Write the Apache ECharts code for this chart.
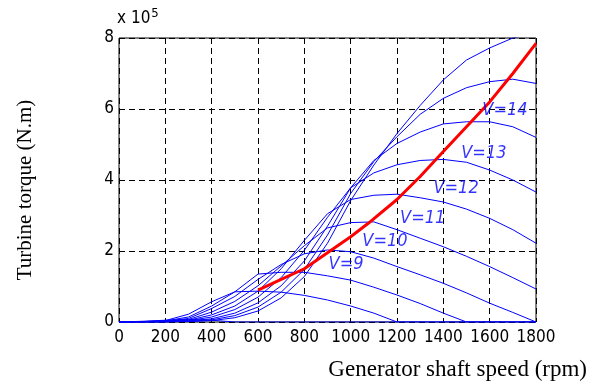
<!DOCTYPE html>
<html><head><meta charset="utf-8">
<script src="https://cdn.jsdelivr.net/npm/echarts@6/dist/echarts.min.js"></script>
<style>html,body{margin:0;padding:0;background:#fff}#c{width:602px;height:387px}</style>
</head><body><div id="c"></div>
<script>
const rpm = [0,100,200,300,400,500,600,700,800,900,1000,1100,1200,1300,1400,1500,1600,1700,1800];
const V5  = [0,0.02,0.05,0.07,0.05,0,0,0,0,0,0,0,0,0,0,0,0,0,0];
const V8  = [0,0.01,0.04,0.22,0.57,0.85,0.87,0.84,0.75,0.62,0.45,0.25,0,0,0,0,0,0,0];
const V9  = [0,0.01,0.03,0.14,0.45,0.85,1.35,1.4,1.4,1.3,1.18,0.98,0.76,0.52,0.25,0,0,0,0];
const V10 = [0,0,0.02,0.1,0.38,0.72,1.2,1.62,1.92,2.03,1.98,1.8,1.56,1.33,1.09,0.82,0.53,0.27,0];
const V11 = [0,0,0.02,0.07,0.28,0.58,1.02,1.58,2.15,2.65,2.8,2.82,2.6,2.36,2.12,1.85,1.56,1.25,0.93];
const V12 = [0,0,0.01,0.05,0.2,0.45,0.87,1.5,2.3,3.05,3.45,3.57,3.6,3.5,3.38,3.18,2.92,2.6,2.22];
const V13 = [0,0,0.01,0.04,0.14,0.35,0.7,1.25,2.02,2.95,3.78,4.2,4.43,4.55,4.58,4.5,4.28,4.0,3.66];
const V14 = [0,0,0,0.03,0.09,0.25,0.54,1.02,1.72,2.7,3.78,4.55,5.03,5.35,5.58,5.64,5.64,5.5,5.2];
const V15 = [0,0,0,0.02,0.06,0.18,0.42,0.84,1.48,2.45,3.62,4.52,5.22,5.85,6.3,6.6,6.77,6.84,6.72];
const V16 = [0,0,0,0.01,0.04,0.12,0.31,0.68,1.28,2.22,3.42,4.42,5.31,6.1,6.82,7.38,7.72,8.0,8.15];
const optRpm = [600,700,800,900,1000,1076,1200,1300,1400,1500,1600,1700,1800];
const optTorque = [0.9,1.2,1.5,1.95,2.4,2.78,3.45,4.1,4.8,5.5,6.2,7.0,7.85];
const labelText = ['V=9','V=10','V=11','V=12','V=13','V=14'];
const labelRpm = [980,1148,1311,1455,1575,1666];
const labelTorque = [1.62,2.27,2.92,3.76,4.76,5.97];
const xTicks = [0,200,400,600,800,1000,1200,1400,1600,1800];
const yTicks = [0,2,4,6,8];

const blueCurves = [V5,V8,V9,V10,V11,V12,V13,V14,V15,V16];
const narrow = '"Liberation Sans Narrow","Arial Narrow","DejaVu Sans Condensed",sans-serif';
const series = blueCurves.map(c => ({
  type:'line', data: rpm.map((r,i)=>[r,c[i]]), symbol:'none', clip:true,
  lineStyle:{color:'#0000ff', width:1}, silent:true, z:2
}));
series.push({type:'line', data: optRpm.map((r,i)=>[r,optTorque[i]]), symbol:'none',
  lineStyle:{color:'#ff0000', width:3}, z:3});
series.push({type:'scatter', symbolSize:0, z:4,
  data: labelText.map((t,i)=>({name:t, value:[labelRpm[i], labelTorque[i]]})),
  label:{show:true, position:'inside', formatter:p=>p.name, color:'#0000ff',
    fontStyle:'italic', fontSize:18, fontFamily:narrow}});

const chart = echarts.init(document.getElementById('c'), null, {renderer:'canvas'});
chart.setOption({
  animation:false,
  grid:{left:119, right:66, top:38, bottom:65, show:true, borderColor:'#000', borderWidth:1, backgroundColor:'transparent'},
  xAxis:{type:'value', min:0, max:1800, interval:200,
    axisLine:{show:false}, axisTick:{show:false},
    axisLabel:{color:'#000', fontSize:17, fontFamily:narrow, margin:7, formatter:v=>xTicks.includes(v)?String(v):''},
    splitLine:{show:true, lineStyle:{color:'#000', type:[6,4], width:1}}},
  yAxis:{type:'value', min:0, max:8, interval:2,
    axisLine:{show:false}, axisTick:{show:false},
    axisLabel:{color:'#000', fontSize:17, fontFamily:narrow, margin:5, formatter:v=>yTicks.includes(v)?String(v):''},
    splitLine:{show:true, lineStyle:{color:'#000', type:[6,4], width:1}}},
  graphic:[
    {type:'text', x:587, y:370, style:{text:'Generator shaft speed (rpm)', font:'23px "Liberation Serif","Times New Roman",serif', fill:'#000', align:'right', verticalAlign:'middle'}},
    {type:'text', x:25, y:190, rotation:Math.PI/2, style:{text:'Turbine torque (N.m)', font:'21px "Liberation Serif","Times New Roman",serif', fill:'#000', align:'center', verticalAlign:'middle'}},
    {type:'text', x:117, y:19, style:{text:'x 10{s|5}', rich:{s:{fontSize:13, verticalAlign:'bottom', padding:[0,0,11,1], fontFamily:narrow}}, font:'17px "DejaVu Sans Condensed",sans-serif', fill:'#000', verticalAlign:'middle'}}
  ],
  series
});
</script></body></html>
